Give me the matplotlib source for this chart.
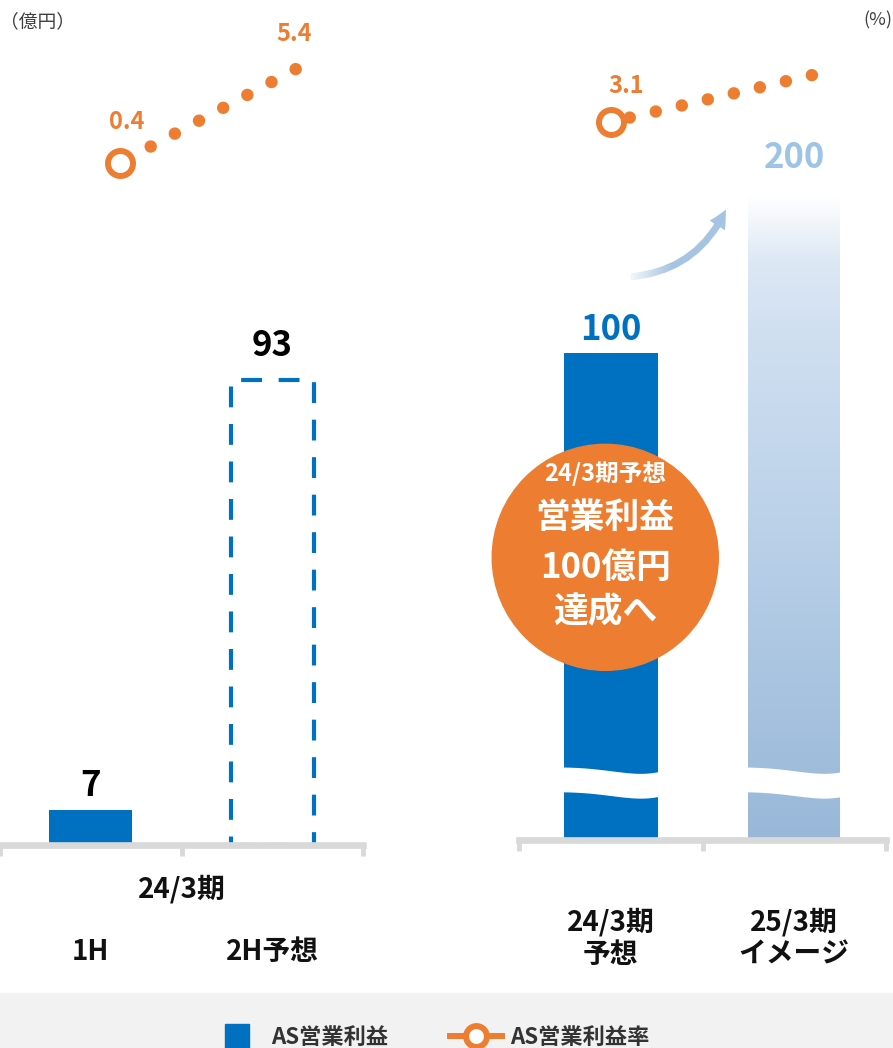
import numpy as np
import matplotlib.pyplot as plt
import matplotlib.transforms as mtransforms
from matplotlib.patches import Circle, Rectangle, FancyArrowPatch
from matplotlib.lines import Line2D
from matplotlib.colors import LinearSegmentedColormap
from matplotlib.image import BboxImage

plt.rcParams['font.family'] = ['Noto Sans CJK JP', 'DejaVu Sans']

# --- data ---
half_labels = ["1H", "2H予想"]
half_values = [7, 93]
half_group = "24/3期"
year_labels = ["24/3期\n予想", "25/3期\nイメージ"]
year_values = [100, 200]
half_rate_x = [0.16, 1.13]
half_rate = [0.4, 5.4]
year_rate_x = [0.0, 1.1]
year_rate = [3.1, 5.6]
callout = ["24/3期予想", "営業利益", "100億円", "達成へ"]

BLUE = "#0070c0"
ORANGE = "#ed7d31"
LIGHT = "#9dc3e6"
AXIS = "#d9d9d9"

W, H = 893, 1048
fig = plt.figure(figsize=(W / 100, H / 100), dpi=100)


def px_axes(x0, x1, ybot, ytop):
    return fig.add_axes([x0 / W, 1 - ybot / H, (x1 - x0) / W, (ybot - ytop) / H])


def style_axis(ax):
    for s in ["top", "left", "right"]:
        ax.spines[s].set_visible(False)
    ax.spines["bottom"].set_color(AXIS)
    ax.spines["bottom"].set_linewidth(4.8)
    ax.set_yticks([])
    ax.set_xticks([])
    ax.set_xticks([-0.5, 0.5, 1.5], minor=True)
    ax.tick_params(axis="x", which="minor", length=8, width=3.5, color=AXIS)
    ax.tick_params(axis="y", which="both", left=False, labelleft=False)
    ax.set_xlim(-0.5, 1.5)
    ax.patch.set_alpha(0)


# ---------------- left panel: 24/3期 1H / 2H ----------------
axl = px_axes(0, 363, 845, 60)
style_axis(axl)
axl.set_ylim(0, 157)
axl.bar(0, half_values[0], width=0.46, color=BLUE, zorder=2)
axl.bar(1, half_values[1], width=0.46, fill=False, edgecolor=BLUE,
        linewidth=3, linestyle=(0, (5, 4)), zorder=2)
for i, (v, pad) in enumerate(zip(half_values, [18, 25])):
    axl.annotate(str(v), (i, v), xytext=(0, pad), textcoords="offset points",
                 ha="center", va="center", fontsize=25, fontweight="bold", color="black")
for i, lab in enumerate(half_labels):
    axl.annotate(lab, (i, 0), xycoords=("data", "axes fraction"), xytext=(0, -77),
                 textcoords="offset points", ha="center", va="center",
                 fontsize=20, fontweight="bold", color="#111111")
axl.annotate(half_group, (0.5, 0), xycoords=("data", "axes fraction"), xytext=(0, -32),
             textcoords="offset points", ha="center", va="center",
             fontsize=20, fontweight="bold", color="#111111")

# ---------------- right panel: 24/3期 / 25/3期 (broken axis) ----------------
K = 0.325


def fwd(v):
    v = np.asarray(v, dtype=float)
    return np.where(v <= 100, v, 100 + (v - 100) * K)


def inv(u):
    u = np.asarray(u, dtype=float)
    return np.where(u <= 100, u, 100 + (u - 100) / K)


axr = px_axes(519, 886, 839.5, 60)
axr.set_yscale("function", functions=(fwd, inv))
style_axis(axr)
axr.set_ylim(0, 285.3)
axr.bar(0, year_values[0], width=0.51, color=BLUE, zorder=2)
ghost = axr.bar(1, year_values[1], width=0.5, color="none", zorder=2)[0]

# gradient fill for the 25/3期 bar
grad_cmap = LinearSegmentedColormap.from_list(
    "fade", [(0.0, "#99b8d9"), (0.15, "#a2bfdd"), (0.5, "#bcd2e9"),
             (0.78, "#cfdff0"), (0.9, "#dde8f5"), (1.0, "#ffffff")])
top_frac = axr.transAxes.inverted().transform(axr.transData.transform((1, year_values[1])))[1]
im = axr.imshow(np.linspace(0, 1, 256).reshape(-1, 1), cmap=grad_cmap, origin="lower",
                extent=(0, 1, 0, top_frac), transform=axr.transAxes,
                aspect="auto", zorder=2)
im.set_clip_path(ghost)
axr.set_xlim(-0.5, 1.5)
axr.set_ylim(0, 285.3)
axr.set_yticks([])

# axis break (white wave) across both bars
t = np.linspace(0, 1, 60)
wave = np.sin(0.8 * np.pi * t ** 2)
for i in range(len(year_values)):
    xs = i - 0.28 + 0.56 * t
    axr.fill_between(xs, 9.8 - 1.3 * wave, 14.9 - 1.3 * wave, color="white", lw=0, zorder=3)

for i, (v, pad, c) in enumerate(zip(year_values, [17, 27], [BLUE, LIGHT])):
    axr.annotate(str(v), (i, v), xytext=(0, pad), textcoords="offset points",
                 ha="center", va="center", fontsize=25, fontweight="bold", color=c)
for i, lab in enumerate(year_labels):
    axr.annotate(lab, (i, 0), xycoords=("data", "axes fraction"), xytext=(0, -71),
                 textcoords="offset points", ha="center", va="center",
                 fontsize=20, fontweight="bold", color="#111111", linespacing=1.2)

# orange callout circle
cx, cy = -0.03, 58
circ_tr = fig.dpi_scale_trans + mtransforms.ScaledTranslation(cx, cy, axr.transData)
axr.add_patch(Circle((0, 0), 1.13, transform=circ_tr, color=ORANGE, zorder=5, clip_on=False))
for txt, dy, fs in zip(callout, [60, 29, -7, -39], [17, 25, 25, 25]):
    axr.annotate(txt, (cx, cy), xytext=(0, dy), textcoords="offset points",
                 ha="center", va="center", fontsize=fs, fontweight="bold",
                 color="white", zorder=6)


# ---------------- operating margin lines ----------------
def rate_line(ax, xs, ys, ylim, gap, offset, label_offsets):
    tw = ax.twinx()
    tw.set_ylim(*ylim)
    tw.axis("off")
    tw.plot(xs, ys, color=ORANGE, lw=9, linestyle=(offset, (0.001, gap)),
            dash_capstyle="round", zorder=3, clip_on=False)
    tw.plot(xs[0], ys[0], marker="o", ms=18, mfc="white", mec=ORANGE, mew=4.3,
            zorder=4, clip_on=False)
    for idx, off in label_offsets:
        tw.annotate(f"{ys[idx]:.1f}", (xs[idx], ys[idx]), xytext=off,
                    textcoords="offset points", ha="center", va="center",
                    fontsize=17, fontweight="bold", color=ORANGE)
    return tw


rate_line(axl, half_rate_x, half_rate, (-35.88, 5.88), 2.19, 1.58,
          [(0, (5, 29.5)), (1, (-1.5, 25))])
rate_line(axr, year_rate_x, year_rate, (-35.065, 6.398), 2.136, 0.576,
          [(0, (11, 26))])

# curved arrow toward 25/3期, fading at its tail
arrow = FancyArrowPatch((628 / W, 1 - 277 / H), (727 / W, 1 - 207 / H),
                        transform=fig.transFigure, connectionstyle="arc3,rad=0.3",
                        arrowstyle="simple,head_length=13,head_width=13,tail_width=5",
                        color="#a6c4e2", lw=0)
fig.add_artist(arrow)
fade = np.ones((1, 64, 4))
fade[..., 3] = np.linspace(1, 0, 64)
fig.add_artist(BboxImage(
    mtransforms.TransformedBbox(mtransforms.Bbox([[624 / W, 1 - 295 / H], [672 / W, 1 - 258 / H]]),
                                fig.transFigure), data=fade, interpolation="bilinear", zorder=3))

# unit labels
fig.text(0, 1 - 22 / H, "（億円）", fontsize=13.5, va="center", ha="left", color="#404040")
fig.text(892 / W, 1 - 20 / H, "(%)", fontsize=13, va="center", ha="right", color="#404040")

# legend band
fig.add_artist(Rectangle((0, 0), 1, (H - 993) / H, transform=fig.transFigure,
                         color="#f2f2f2", zorder=0))
handles = [Line2D([], [], ls="none", marker="s", ms=17, color=BLUE),
           Line2D([], [], color=ORANGE, lw=4.3, marker="o", ms=15, mfc="white",
                  mec=ORANGE, mew=4.3)]
fig.legend(handles, ["AS営業利益", "AS営業利益率"], loc="center",
           bbox_to_anchor=(0.482, 1 - 1037 / H), ncol=2, frameon=False,
           prop={"size": 16, "weight": "bold"}, labelcolor="#333333",
           handlelength=2.3, handletextpad=0.4, columnspacing=2.8, numpoints=1)

fig.savefig("out.png", dpi=100)
